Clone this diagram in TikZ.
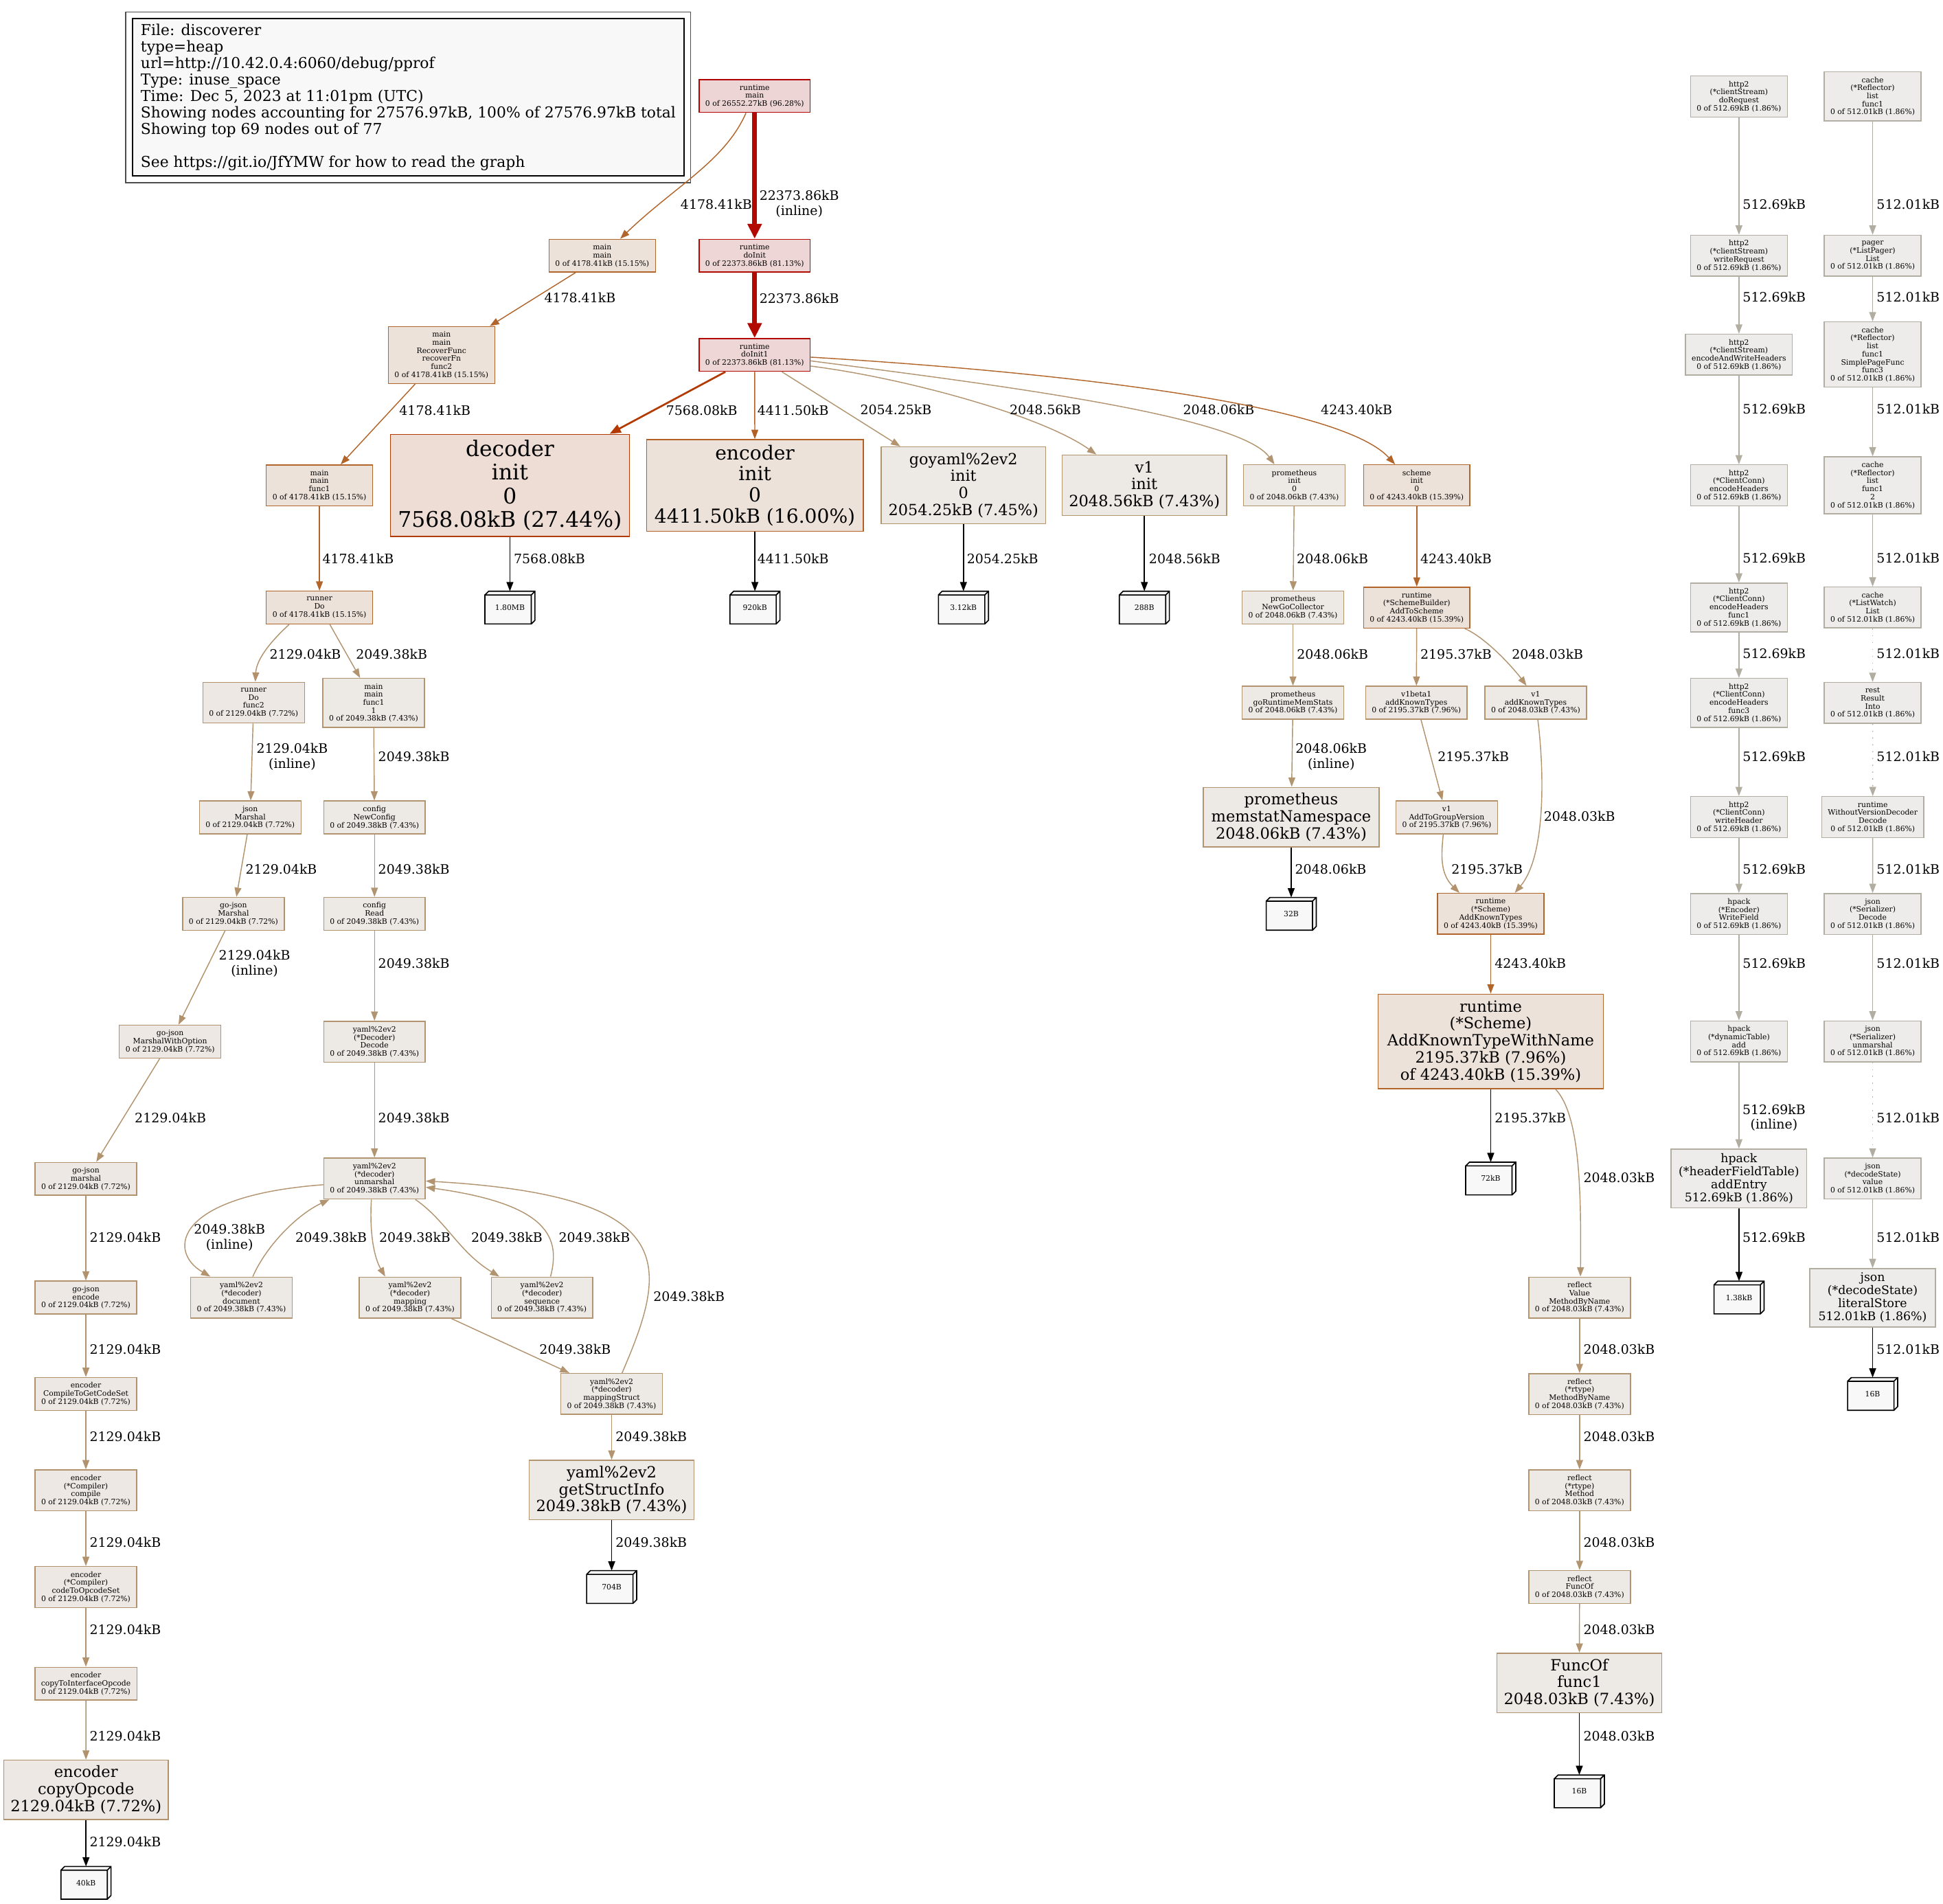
\documentclass[tikz,border=0pt]{standalone}
\usepackage{fontspec}
\setmainfont{DejaVu Serif}
\usetikzlibrary{arrows.meta,calc}

\definecolor{b96}{HTML}{B20200}\definecolor{f96}{HTML}{EDD5D5}
\definecolor{b81}{HTML}{B20A00}\definecolor{f81}{HTML}{EDD6D5}
\definecolor{b27}{HTML}{B23900}\definecolor{f27}{HTML}{EDDDD5}
\definecolor{b16}{HTML}{B26023}\definecolor{f16}{HTML}{EDE2DA}
\definecolor{b15}{HTML}{B2652B}\definecolor{f15}{HTML}{EDE2DA}
\definecolor{b8}{HTML}{B2916B}\definecolor{f8}{HTML}{EDE8E3}
\definecolor{b7a}{HTML}{B2926D}\definecolor{f7a}{HTML}{EDE8E4}
\definecolor{b7}{HTML}{B29470}\definecolor{f7}{HTML}{EDE9E4}
\definecolor{b2}{HTML}{B2ADA1}\definecolor{f2}{HTML}{EDECEA}
\definecolor{leaffill}{HTML}{F8F8F8}

\tikzset{
  fn/.style={rectangle, draw=b#1, fill=f#1, line width=0.8pt, inner xsep=5pt, inner ysep=1pt, align=center, font=\fontsize{6}{6.5}\selectfont},
  nl/.style={minimum height={6.5*#1+7}},
  big/.style={fn=#1, inner xsep=2pt},
  leaf/.style={rectangle, fill=leaffill, minimum width=40pt, minimum height=26pt, inner sep=0pt, font=\fontsize{6}{6.5}\selectfont},
  leafline/.style={draw=black, line width=0.9pt},
  ar/.style={draw=#1, line width=0.8pt, -{Triangle[length=7.5pt,width=5.5pt]}},
  armid/.style={draw=#1, line width=1.5pt, -{Triangle[length=9pt,width=7pt]}},
  arbold/.style={draw=#1, line width=3.75pt, -{Triangle[length=12pt,width=11pt]}},
  arleaf/.style={draw=black, line width=1pt, -{Triangle[length=7.5pt,width=5.5pt]}},
  dotline/.style={dash pattern=on 0.9pt off 4.6pt},
  lb/.style={text=black, inner sep=0pt, align=center, font=\fontsize{10.5}{11.8}\selectfont},
  legbox/.style={rectangle, draw=black, fill=leaffill, line width=0.8pt, minimum width=445pt, minimum height=127pt, inner sep=0pt, align=left, font=\fontsize{12.1}{13.3}\selectfont}
}

\begin{document}
\begin{tikzpicture}[x=1pt,y=-1pt]
\useasboundingbox (0,0) rectangle (1568,1536);

\node[legbox] (leg) at (329.5,78.5) {File: discoverer\\type=heap\\url=http://10.42.0.4:6060/debug/pprof\\Type: inuse\_space\\Time: Dec 5, 2023 at 11:01pm (UTC)\\Showing nodes accounting for 27576.97kB, 100\% of 27576.97kB total\\Showing top 69 nodes out of 77\\[13.3pt]See https://git.io/JfYMW for how to read the graph};
\draw[black!70, line width=0.9pt] ($(leg.north west)+(-5,-5)$) rectangle ($(leg.south east)+(5,5)$);

\node[fn=96, nl=3] (rtm) at (609,77.5) {runtime\\main\\0 of 26552.27kB (96.28\%)};
\node[fn=15, nl=3] (mm) at (486,206.3) {main\\main\\0 of 4178.41kB (15.15\%)};
\node[fn=81, nl=3] (doi) at (609,206.3) {runtime\\doInit\\0 of 22373.86kB (81.13\%)};
\node[fn=15, nl=6] (rf) at (356.3,286.5) {main\\main\\RecoverFunc\\recoverFn\\func2\\0 of 4178.41kB (15.15\%)};
\node[fn=81, nl=3] (doi1) at (609,286.4) {runtime\\doInit1\\0 of 22373.86kB (81.13\%)};

\node[fn=15, nl=4] (mf1) at (257.8,391.7) {main\\main\\func1\\0 of 4178.41kB (15.15\%)};
\node[big=27, minimum width=193pt, minimum height=82.5pt, font=\fontsize{17.4}{19.1}\selectfont] (dec) at (411.5,391.7) {decoder\\init\\0\\7568.08kB (27.44\%)};
\node[big=16, minimum width=175pt, minimum height=74pt, font=\fontsize{15.6}{17}\selectfont] (enc) at (609.2,391.7) {encoder\\init\\0\\4411.50kB (16.00\%)};
\node[big=7, minimum width=133pt, minimum height=62pt, font=\fontsize{12.4}{13.7}\selectfont] (gyi) at (777.5,391.6) {goyaml\%2ev2\\init\\0\\2054.25kB (7.45\%)};
\node[big=7, minimum width=133pt, minimum height=48.7pt, font=\fontsize{12.5}{13.7}\selectfont] (v1i) at (923.5,391.5) {v1\\init\\2048.56kB (7.43\%)};
\node[fn=7, nl=4] (pri) at (1044.5,391.6) {prometheus\\init\\0\\0 of 2048.06kB (7.43\%)};
\node[fn=15, nl=4] (sci) at (1143.3,391.6) {scheme\\init\\0\\0 of 4243.40kB (15.39\%)};

\node[fn=15, nl=3] (rdo) at (257.8,490.3) {runner\\Do\\0 of 4178.41kB (15.15\%)};
\node[leaf] (lf1) at (411.5,490.3) {1.80MB};
\node[leaf] (lf2) at (609.2,490.3) {920kB};
\node[leaf] (lf3) at (777.5,490.3) {3.12kB};
\node[leaf] (lf4) at (923.5,490.3) {288B};
\node[fn=7, nl=3] (ngc) at (1043.4,490.2) {prometheus\\NewGoCollector\\0 of 2048.06kB (7.43\%)};
\node[fn=15, nl=4] (ats) at (1143.3,490.3) {runtime\\(*SchemeBuilder)\\AddToScheme\\0 of 4243.40kB (15.39\%)};

\node[fn=7a, nl=4] (rdf2) at (204.7,567) {runner\\Do\\func2\\0 of 2129.04kB (7.72\%)};
\node[fn=7, nl=5] (mf11) at (301.5,567.2) {main\\main\\func1\\1\\0 of 2049.38kB (7.43\%)};
\node[fn=7, nl=3] (grm) at (1043.4,567) {prometheus\\goRuntimeMemStats\\0 of 2048.06kB (7.43\%)};
\node[fn=8, nl=3] (vb1) at (1143,567) {v1beta1\\addKnownTypes\\0 of 2195.37kB (7.96\%)};
\node[fn=7, nl=3] (v1k) at (1239.3,567) {v1\\addKnownTypes\\0 of 2048.03kB (7.43\%)};

\node[fn=7a, nl=3] (jm) at (201.9,659.6) {json\\Marshal\\0 of 2129.04kB (7.72\%)};
\node[fn=7, nl=3] (nc) at (302.2,659.6) {config\\NewConfig\\0 of 2049.38kB (7.43\%)};
\node[big=7, minimum width=142pt, minimum height=48pt, font=\fontsize{12.5}{13.7}\selectfont] (msn) at (1042,659.3) {prometheus\\memstatNamespace\\2048.06kB (7.43\%)};
\node[fn=8, nl=3] (agv) at (1167.5,659.5) {v1\\AddToGroupVersion\\0 of 2195.37kB (7.96\%)};

\node[fn=7a, nl=3] (gjm) at (188.4,737.4) {go-json\\Marshal\\0 of 2129.04kB (7.72\%)};
\node[fn=7, nl=3] (cr) at (302.2,737.4) {config\\Read\\0 of 2049.38kB (7.43\%)};
\node[leaf] (lf5) at (1042,737.4) {32B};
\node[fn=15, nl=4] (akt) at (1203,737.4) {runtime\\(*Scheme)\\AddKnownTypes\\0 of 4243.40kB (15.39\%)};

\node[fn=7a, nl=3] (gjmwo) at (137.3,840.5) {go-json\\MarshalWithOption\\0 of 2129.04kB (7.72\%)};
\node[fn=7, nl=4] (yd) at (302.2,840.6) {yaml\%2ev2\\(*Decoder)\\Decode\\0 of 2049.38kB (7.43\%)};
\node[big=15, minimum width=181.6pt, minimum height=76.3pt, font=\fontsize{12.5}{13.7}\selectfont] (aktn) at (1203,840.3) {runtime\\(*Scheme)\\AddKnownTypeWithName\\2195.37kB (7.96\%)\\of 4243.40kB (15.39\%)};

\node[fn=7a, nl=3] (gjm2) at (69.3,951.2) {go-json\\marshal\\0 of 2129.04kB (7.72\%)};
\node[fn=7, nl=4] (um) at (302.2,951) {yaml\%2ev2\\(*decoder)\\unmarshal\\0 of 2049.38kB (7.43\%)};
\node[leaf] (lf6) at (1203,951) {72kB};

\node[fn=7a, nl=3] (gje) at (69.3,1047) {go-json\\encode\\0 of 2129.04kB (7.72\%)};
\node[fn=7, nl=4] (doc) at (194.8,1047) {yaml\%2ev2\\(*decoder)\\document\\0 of 2049.38kB (7.43\%)};
\node[fn=7, nl=4] (map) at (330.9,1047) {yaml\%2ev2\\(*decoder)\\mapping\\0 of 2049.38kB (7.43\%)};
\node[fn=7, nl=4] (seq) at (437.4,1047) {yaml\%2ev2\\(*decoder)\\sequence\\0 of 2049.38kB (7.43\%)};
\node[fn=7, nl=4] (rvm) at (1274.7,1047) {reflect\\Value\\MethodByName\\0 of 2048.03kB (7.43\%)};

\node[fn=7a, nl=3] (ctg) at (69.3,1124.8) {encoder\\CompileToGetCodeSet\\0 of 2129.04kB (7.72\%)};
\node[fn=7, nl=4] (ms) at (493.6,1124.8) {yaml\%2ev2\\(*decoder)\\mappingStruct\\0 of 2049.38kB (7.43\%)};
\node[fn=7, nl=4] (rtmbn) at (1274.7,1124.9) {reflect\\(*rtype)\\MethodByName\\0 of 2048.03kB (7.43\%)};

\node[fn=7a, nl=4] (cmp) at (69.3,1202.6) {encoder\\(*Compiler)\\compile\\0 of 2129.04kB (7.72\%)};
\node[big=7, minimum width=133pt, minimum height=48pt, font=\fontsize{12.5}{13.7}\selectfont] (gsi) at (493.6,1202.3) {yaml\%2ev2\\getStructInfo\\2049.38kB (7.43\%)};
\node[fn=7, nl=4] (rtmeth) at (1274.7,1202.6) {reflect\\(*rtype)\\Method\\0 of 2048.03kB (7.43\%)};

\node[fn=7a, nl=4] (cto) at (69.3,1280.6) {encoder\\(*Compiler)\\codeToOpcodeSet\\0 of 2129.04kB (7.72\%)};
\node[leaf] (lf9) at (493.6,1280.6) {704B};
\node[fn=7, nl=3] (fof) at (1274.7,1280.6) {reflect\\FuncOf\\0 of 2048.03kB (7.43\%)};

\node[fn=7a, nl=3] (cti) at (69.3,1358.6) {encoder\\copyToInterfaceOpcode\\0 of 2129.04kB (7.72\%)};
\node[big=7, minimum width=133pt, minimum height=48pt, font=\fontsize{12.5}{13.7}\selectfont] (foff1) at (1274.5,1358) {FuncOf\\func1\\2048.03kB (7.43\%)};

\node[big=7a, minimum width=133pt, minimum height=48pt, font=\fontsize{12.5}{13.7}\selectfont] (cop) at (69.4,1444.3) {encoder\\copyOpcode\\2129.04kB (7.72\%)};
\node[leaf] (lf10) at (1274.5,1445.5) {16B};
\node[leaf] (lf11) at (69.4,1519.3) {40kB};

\node[fn=2, nl=4] (h2dr) at (1403.3,77.9) {http2\\(*clientStream)\\doRequest\\0 of 512.69kB (1.86\%)};
\node[fn=2, nl=4] (h2wr) at (1403.3,206.3) {http2\\(*clientStream)\\writeRequest\\0 of 512.69kB (1.86\%)};
\node[fn=2, nl=4] (h2ew) at (1403.3,286.2) {http2\\(*clientStream)\\encodeAndWriteHeaders\\0 of 512.69kB (1.86\%)};
\node[fn=2, nl=4] (h2eh) at (1403.3,391.6) {http2\\(*ClientConn)\\encodeHeaders\\0 of 512.69kB (1.86\%)};
\node[fn=2, nl=5] (h2f1) at (1403.3,490.2) {http2\\(*ClientConn)\\encodeHeaders\\func1\\0 of 512.69kB (1.86\%)};
\node[fn=2, nl=5] (h2f3) at (1403.3,567.2) {http2\\(*ClientConn)\\encodeHeaders\\func3\\0 of 512.69kB (1.86\%)};
\node[fn=2, nl=4] (h2wh) at (1403.3,659.3) {http2\\(*ClientConn)\\writeHeader\\0 of 512.69kB (1.86\%)};
\node[fn=2, nl=4] (hpwf) at (1403.3,737.5) {hpack\\(*Encoder)\\WriteField\\0 of 512.69kB (1.86\%)};
\node[fn=2, nl=4] (hpda) at (1403.3,840.3) {hpack\\(*dynamicTable)\\add\\0 of 512.69kB (1.86\%)};
\node[big=2, minimum width=109.4pt, minimum height=47.5pt, font=\fontsize{9.6}{10.5}\selectfont] (hpae) at (1403.3,951) {hpack\\(*headerFieldTable)\\addEntry\\512.69kB (1.86\%)};
\node[leaf] (lf7) at (1403.4,1047) {1.38kB};

\node[fn=2, nl=5] (crl) at (1511.2,77.7) {cache\\(*Reflector)\\list\\func1\\0 of 512.01kB (1.86\%)};
\node[fn=2, nl=4] (plist) at (1511.2,206.3) {pager\\(*ListPager)\\List\\0 of 512.01kB (1.86\%)};
\node[fn=2, nl=7] (spf) at (1511.2,286) {cache\\(*Reflector)\\list\\func1\\SimplePageFunc\\func3\\0 of 512.01kB (1.86\%)};
\node[fn=2, nl=6] (crl2) at (1511.2,391.6) {cache\\(*Reflector)\\list\\func1\\2\\0 of 512.01kB (1.86\%)};
\node[fn=2, nl=4] (clw) at (1511.2,490.2) {cache\\(*ListWatch)\\List\\0 of 512.01kB (1.86\%)};
\node[fn=2, nl=4] (rri) at (1511.2,567.2) {rest\\Result\\Into\\0 of 512.01kB (1.86\%)};
\node[fn=2, nl=4] (wvd) at (1511.3,659.3) {runtime\\WithoutVersionDecoder\\Decode\\0 of 512.01kB (1.86\%)};
\node[fn=2, nl=4] (jsd) at (1511.2,737.5) {json\\(*Serializer)\\Decode\\0 of 512.01kB (1.86\%)};
\node[fn=2, nl=4] (jsu) at (1511.2,840.3) {json\\(*Serializer)\\unmarshal\\0 of 512.01kB (1.86\%)};
\node[fn=2, nl=4] (jdv) at (1511.2,951) {json\\(*decodeState)\\value\\0 of 512.01kB (1.86\%)};
\node[big=2, minimum width=101.5pt, minimum height=47pt, font=\fontsize{9.6}{10.5}\selectfont] (jls) at (1511.2,1047.2) {json\\(*decodeState)\\literalStore\\512.01kB (1.86\%)};
\node[leaf] (lf8) at (1511.2,1124.8) {16B};

\foreach \n in {lf1,lf2,lf3,lf4,lf5,lf6,lf7,lf8,lf9,lf10,lf11}
  \draw[leafline] ($(\n.north west)+(0,3)$) rectangle ($(\n.south east)+(-3,0)$)
    ($(\n.north west)+(0,3)$) -- ($(\n.north west)+(3,0)$) -- (\n.north east) -- ($(\n.south east)+(0,-3)$) -- ($(\n.south east)+(-3,0)$)
    ($(\n.north east)+(-3,3)$) -- (\n.north east);

\draw[ar=b15] ($(rtm.south)+(-7,0)$) .. controls (585,130) and (545,150) .. ($(mm.north)+(14.5,0)$) node[lb, at={(578,165)}] {4178.41kB};
\draw[arbold=b81] (rtm) -- (doi) node[lb, at={(645,164.5)}] {22373.86kB\\(inline)};
\draw[arbold=b81] (doi) -- (doi1) node[lb, at={(645,241)}] {22373.86kB};
\draw[ar=b15] ($(mm.south)+(-21.5,0)$) -- ($(rf.north)+(39,0)$) node[lb, at={(468,240.5)}] {4178.41kB};
\draw[ar=b15] ($(rf.south)+(-21.3,0)$) -- ($(mf1.north)+(17.1,0)$) node[lb, at={(351,331)}] {4178.41kB};
\draw[ar=b15] (mf1) -- (rdo) node[lb, at={(289,451)}] {4178.41kB};

\draw[armid=b27] ($(doi1.south)+(-23.6,0)$) -- ($(dec.north)+(80.5,0)$) node[lb, at={(566.3,331)}] {7568.08kB};
\draw[ar=b16] (doi1) -- (enc) node[lb, at={(640,331)}] {4411.50kB};
\draw[ar=b7] ($(doi1.south)+(22,0)$) -- ($(gyi.north)+(-51,0)$) node[lb, at={(723,330.7)}] {2054.25kB};
\draw[ar=b7] ($(doi1.east)+(0,9)$) .. controls (730,305) and (840,335) .. ($(v1i.north)+(-38.7,0)$) node[lb, at={(843.6,330.7)}] {2048.56kB};
\draw[ar=b7] ($(doi1.east)+(0,4.8)$) .. controls (800,310) and (1000,335) .. ($(pri.north)+(-16,0)$) node[lb, at={(983.5,330.7)}] {2048.06kB};
\draw[ar=b15] ($(doi1.east)+(0,1.8)$) .. controls (850,300) and (1080,325) .. ($(sci.north)+(-17.5,0)$) node[lb, at={(1094.7,330.7)}] {4243.40kB};

\draw[arleaf] (dec) -- (lf1) node[lb, at={(443.4,451)}] {7568.08kB};
\draw[arleaf] (enc) -- (lf2) node[lb, at={(640,451)}] {4411.50kB};
\draw[arleaf] (gyi) -- (lf3) node[lb, at={(809,451)}] {2054.25kB};
\draw[arleaf] (v1i) -- (lf4) node[lb, at={(956,451)}] {2048.56kB};
\draw[ar=b7] (pri) -- (ngc) node[lb, at={(1075.3,451)}] {2048.06kB};
\draw[ar=b15] (sci) -- (ats) node[lb, at={(1175,451)}] {4243.40kB};

\draw[ar=b7a] ($(rdo.south)+(-24.5,0)$) .. controls (218,518) and (207,532) .. ($(rdf2.north)+(1.3,0)$) node[lb, at={(246.4,528)}] {2129.04kB};
\draw[ar=b7] ($(rdo.south)+(8.4,0)$) -- ($(mf11.north)+(-10.9,0)$) node[lb, at={(316,528)}] {2049.38kB};
\draw[ar=b7a] (rdf2) -- (jm) node[lb, at={(235.8,610.6)}] {2129.04kB\\(inline)};
\draw[ar=b7a] (jm) -- (gjm) node[lb, at={(227,701.3)}] {2129.04kB};
\draw[ar=b7a] (gjm) -- (gjmwo) node[lb, at={(205.4,777.5)}] {2129.04kB\\(inline)};
\draw[ar=b7a] (gjmwo) -- (gjm2) node[lb, at={(137.5,901.9)}] {2129.04kB};
\foreach \a/\b/\y in {gjm2/gje/998.4, gje/ctg/1088.7, ctg/cmp/1159.2, cmp/cto/1244.5, cto/cti/1314.8, cti/cop/1400.6}
  \draw[ar=b7a] (\a) -- (\b) node[lb, at={(101.1,\y)}] {2129.04kB};
\draw[arleaf] (cop) -- (lf11) node[lb, at={(101.1,1486)}] {2129.04kB};

\foreach \a/\b/\y in {mf11/nc/610.4, nc/cr/701.3, cr/yd/777.5, yd/um/901.9}
  \draw[ar=b7] (\a) -- (\b) node[lb, at={(334,\y)}] {2049.38kB};
\draw[ar=b7] ($(um.west)+(0,5)$) .. controls (140,965) and (135,1010) .. ($(doc.north)+(-25,0)$) node[lb, at={(185.2,998.7)}] {2049.38kB\\(inline)};
\draw[ar=b7] ($(doc.north)+(9.2,0)$) .. controls (215,1005) and (240,980) .. ($(um.south west)+(5,0)$) node[lb, at={(267.2,998.4)}] {2049.38kB};
\draw[ar=b7] ($(um.south)+(-2.5,0)$) .. controls (298,995) and (302,1015) .. ($(map.north)+(-20,0)$) node[lb, at={(334.8,998.4)}] {2049.38kB};
\draw[ar=b7] ($(um.south)+(33,0)$) .. controls (360,985) and (370,1010) .. ($(seq.north)+(-34.4,0)$) node[lb, at={(409,998.4)}] {2049.38kB};
\draw[ar=b7] ($(seq.north)+(6.9,0)$) .. controls (452,1000) and (445,972) .. ($(um.east)+(0,7)$) node[lb, at={(479.7,998.4)}] {2049.38kB};
\draw[ar=b7] ($(map.south)+(33.2,0)$) -- ($(ms.north)+(-34.1,0)$) node[lb, at={(464.1,1088.7)}] {2049.38kB};
\draw[ar=b7] ($(ms.north)+(8.4,0)$) .. controls (540,1020) and (550,965) .. ($(um.east)+(0,2)$) node[lb, at={(556,1046)}] {2049.38kB};
\draw[ar=b7] (ms) -- (gsi) node[lb, at={(525.6,1159.2)}] {2049.38kB};
\draw[arleaf] (gsi) -- (lf9) node[lb, at={(525.6,1244.5)}] {2049.38kB};

\draw[ar=b7] (ngc) -- (grm) node[lb, at={(1075.4,527.8)}] {2048.06kB};
\draw[ar=b8] (ats) -- (vb1) node[lb, at={(1175,527.8)}] {2195.37kB};
\draw[ar=b7] ($(ats.south)+(38.7,0)$) .. controls (1200,515) and (1222,540) .. ($(v1k.north)+(-7.4,0)$) node[lb, at={(1248.9,527.8)}] {2048.03kB};
\draw[ar=b7] (grm) -- (msn) node[lb, at={(1074.3,610.7)}] {2048.06kB\\(inline)};
\draw[ar=b8] ($(vb1.south)+(3.7,0)$) -- ($(agv.north)+(-3.5,0)$) node[lb, at={(1189,610.4)}] {2195.37kB};
\draw[ar=b7] ($(v1k.south)+(1.7,0)$) .. controls (1246,620) and (1248,690) .. ($(akt.north)+(19.4,0)$) node[lb, at={(1274.6,658.5)}] {2048.03kB};
\draw[arleaf] (msn) -- (lf5) node[lb, at={(1073.9,701.3)}] {2048.06kB};
\draw[ar=b8] ($(agv.south)+(-2.8,0)$) .. controls (1163,690) and (1162,705) .. ($(akt.north)+(-25.2,0)$) node[lb, at={(1200.1,701.3)}] {2195.37kB};
\draw[ar=b15] (akt) -- (aktn) node[lb, at={(1235,777.2)}] {4243.40kB};
\draw[arleaf] (aktn) -- (lf6) node[lb, at={(1235,902)}] {2195.37kB};
\draw[ar=b7] ($(aktn.south)+(52.3,0)$) .. controls (1275,900) and (1276,960) .. ($(rvm.north)+(0.7,0)$) node[lb, at={(1306.6,950.2)}] {2048.03kB};
\foreach \a/\b/\y in {rvm/rtmbn/1088.8, rtmbn/rtmeth/1159.2, rtmeth/fof/1244.5, fof/foff1/1314.8}
  \draw[ar=b7] (\a) -- (\b) node[lb, at={(1306.6,\y)}] {2048.03kB};
\draw[arleaf] (foff1) -- (lf10) node[lb, at={(1306.6,1400.6)}] {2048.03kB};

\foreach \a/\b/\y in {h2dr/h2wr/164.8, h2wr/h2ew/239.8, h2ew/h2eh/330.1, h2eh/h2f1/450.5, h2f1/h2f3/527.4, h2f3/h2wh/610.2, h2wh/hpwf/701.3, hpwf/hpda/777.1}
  \draw[ar=b2] (\a) -- (\b) node[lb, at={(1431.8,\y)}] {512.69kB};
\draw[ar=b2] (hpda) -- (hpae) node[lb, at={(1431.6,902)}] {512.69kB\\(inline)};
\draw[arleaf] (hpae) -- (lf7) node[lb, at={(1431.6,998.5)}] {512.69kB};

\foreach \a/\b/\y/\s in {crl/plist/164.8/solid, plist/spf/239.8/solid, spf/crl2/330.1/solid, crl2/clw/450.5/solid, clw/rri/527.4/dotline, rri/wvd/610.2/dotline, wvd/jsd/701.3/solid, jsd/jsu/777.1/solid, jsu/jdv/902/dotline, jdv/jls/998.5/solid}
  \draw[ar=b2, \s] (\a) -- (\b) node[lb, at={(1539.9,\y)}] {512.01kB};
\draw[arleaf] (jls) -- (lf8) node[lb, at={(1539.8,1088.8)}] {512.01kB};
\end{tikzpicture}
\end{document}
